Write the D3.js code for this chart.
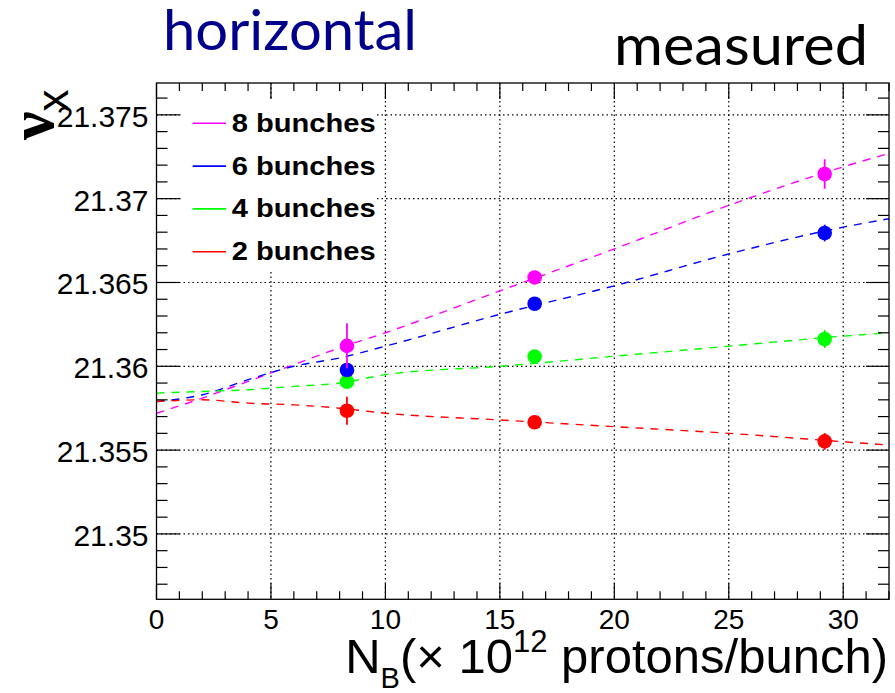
<!DOCTYPE html>
<html>
<head>
<meta charset="utf-8">
<script src="https://cdn.jsdelivr.net/npm/d3@7"></script>
<style>
  body { margin: 0; background: #fff; }
  text { font-family: "Liberation Sans", Arial, sans-serif; }
</style>
</head>
<body>
<div id="container"></div>
<script>
// measured horizontal tune vs bunch intensity
var labels = ["8 bunches", "6 bunches", "4 bunches", "2 bunches"];
var colors = ["#ff00ff", "#0000ff", "#00ff00", "#ff0000"];

var nB = [8.32, 16.52, 29.19];
var tune8 = [21.36122, 21.36530, 21.37147];
var tune6 = [21.35978, 21.36373, 21.36795];
var tune4 = [21.35908, 21.36058, 21.36163];
var tune2 = [21.35735, 21.35666, 21.35552];
var err8 = [0.00135, 0.0004, 0.00088];
var err6 = [0.0003, 0.0003, 0.0005];
var err4 = [0.0004, 0.0003, 0.00054];
var err2 = [0.00083, 0.0003, 0.0005];

// dashed fit curves
var fitX = [0, 2, 4, 6, 8, 10, 15, 20, 25, 30, 32];
var fit8 = [21.3572, 21.3581, 21.3591, 21.3601, 21.3611, 21.3620, 21.3645, 21.3670, 21.3696, 21.3719, 21.3727];
var fit6 = [21.3579, 21.3583, 21.3592, 21.3600, 21.3605, 21.3612, 21.3631, 21.3648, 21.3667, 21.3683, 21.3688];
var fit4 = [21.3584, 21.3585, 21.3586, 21.3588, 21.3590, 21.3595, 21.3600, 21.3606, 21.3612, 21.3618, 21.3620];
var fit2 = [21.3579, 21.3580, 21.3578, 21.3577, 21.3575, 21.3572, 21.3568, 21.3564, 21.3560, 21.3555, 21.3553];

var xMajor = [0, 5, 10, 15, 20, 25, 30];
var yMajor = [21.35, 21.355, 21.36, 21.365, 21.37, 21.375];
var yLabels = ["21.35", "21.355", "21.36", "21.365", "21.37", "21.375"];

var tunes = [tune8, tune6, tune4, tune2];
var errs = [err8, err6, err4, err2];
var fits = [fit8, fit6, fit4, fit2];

var W = 895, H = 693;
var pL = 156.5, pR = 889, pT = 83, pB = 599.3;

var x = d3.scaleLinear().domain([0, 32]).range([pL, pR]);
var y = d3.scaleLinear().domain([21.3461, 21.3769]).range([pB, pT]);

var svg = d3.select("#container").append("svg")
	.attr("width", W).attr("height", H);
svg.append("rect").attr("width", W).attr("height", H).attr("fill", "#fff");

// grid
var grid = svg.append("g").attr("stroke", "#000").attr("stroke-width", 1.2)
	.attr("stroke-dasharray", "1.5,3");
grid.selectAll("line.v").data(xMajor.slice(1)).enter().append("line")
	.attr("x1", function(d){ return x(d) }).attr("x2", function(d){ return x(d) })
	.attr("y1", pT).attr("y2", pB);
grid.selectAll("line.h").data(yMajor).enter().append("line")
	.attr("x1", pL).attr("x2", pR)
	.attr("y1", function(d){ return y(d) }).attr("y2", function(d){ return y(d) });

// fit curves
var line = d3.line()
	.x(function(d){ return x(d[0]) })
	.y(function(d){ return y(d[1]) })
	.curve(d3.curveMonotoneX);

fits.forEach(function(f, i){
	svg.append("path")
		.attr("d", line(fitX.map(function(v, j){ return [v, f[j]] })))
		.attr("fill", "none")
		.attr("stroke", colors[i])
		.attr("stroke-width", 1.4)
		.attr("stroke-dasharray", "8,7");
});

// points with error bars (draw 2 bunches first so magenta is on top)
for (var i = tunes.length - 1; i >= 0; i--) {
	var g = svg.append("g");
	nB.forEach(function(v, j){
		g.append("line")
			.attr("x1", x(v)).attr("x2", x(v))
			.attr("y1", y(tunes[i][j] - errs[i][j]))
			.attr("y2", y(tunes[i][j] + errs[i][j]))
			.attr("stroke", colors[i]).attr("stroke-width", 1.8);
		g.append("circle")
			.attr("cx", x(v)).attr("cy", y(tunes[i][j]))
			.attr("r", 7.3).attr("fill", colors[i]);
	});
}

// frame and ticks
svg.append("rect")
	.attr("x", pL).attr("y", pT)
	.attr("width", pR - pL).attr("height", pB - pT)
	.attr("fill", "none").attr("stroke", "#000").attr("stroke-width", 1.3);

var ticks = svg.append("g").attr("stroke", "#000").attr("stroke-width", 1.2);
d3.range(0, 33).forEach(function(v){
	var len = (v % 5 == 0) ? 16 : 8;
	ticks.append("line").attr("x1", x(v)).attr("x2", x(v))
		.attr("y1", pB).attr("y2", pB - len);
	ticks.append("line").attr("x1", x(v)).attr("x2", x(v))
		.attr("y1", pT).attr("y2", pT + len);
});
d3.range(21347, 21377).forEach(function(k){
	var v = k / 1000;
	var len = (k % 5 == 0) ? 23 : 11;
	ticks.append("line").attr("x1", pL).attr("x2", pL + len)
		.attr("y1", y(v)).attr("y2", y(v));
	ticks.append("line").attr("x1", pR).attr("x2", pR - len)
		.attr("y1", y(v)).attr("y2", y(v));
});

// tick labels
svg.selectAll("text.xl").data(xMajor).enter().append("text")
	.attr("x", function(d){ return x(d) }).attr("y", 628.5)
	.attr("text-anchor", "middle").attr("font-size", 28)
	.text(function(d){ return d });
svg.selectAll("text.yl").data(yMajor).enter().append("text")
	.attr("x", pL - 8).attr("y", function(d){ return y(d) + 12 })
	.attr("text-anchor", "end").attr("font-size", 30)
	.text(function(d, i){ return yLabels[i] });

// x title
var xt = svg.append("text").attr("x", 888).attr("y", 673.3)
	.attr("text-anchor", "end").attr("font-size", 49);
xt.append("tspan").text("N");
xt.append("tspan").attr("dy", 15).attr("font-size", 29).text("B");
xt.append("tspan").attr("dy", -15).text("(\u00d7 10");
xt.append("tspan").attr("dy", -21).attr("font-size", 31).text("12");
xt.append("tspan").attr("dy", 21).text(" protons/bunch)");

// y title
var yt = svg.append("text")
	.attr("transform", "translate(53,140) rotate(-90)")
	.attr("font-size", 64).attr("font-weight", "bold")
	.style("font-family", "'Liberation Serif', serif");
yt.append("tspan").text("\u03bd");
yt.append("tspan").attr("dy", 15).attr("font-size", 44)
	.style("font-family", "'Liberation Sans', sans-serif").style("font-weight", "normal")
	.text("x");

// legend
svg.append("rect").attr("x", 183).attr("y", 101).attr("width", 194).attr("height", 170)
	.attr("fill", "#fff");
labels.forEach(function(d, i){
	var ly = 123.3 + i * 42.8;
	svg.append("line").attr("x1", 192.7).attr("x2", 226)
		.attr("y1", ly).attr("y2", ly)
		.attr("stroke", colors[i]).attr("stroke-width", 1.6);
	svg.append("text").attr("x", 231.7).attr("y", ly + 8.4)
		.attr("font-size", 25).attr("font-weight", "bold")
		.attr("textLength", 144).attr("lengthAdjust", "spacingAndGlyphs")
		.text(d);
});

// slide titles
svg.append("text").attr("x", 163).attr("y", 50)
	.attr("font-size", 57).attr("fill", "#00008b")
	.style("font-family", "Lato, 'Open Sans', sans-serif")
	.attr("textLength", 254).attr("lengthAdjust", "spacingAndGlyphs")
	.text("horizontal");
svg.append("text").attr("x", 614).attr("y", 65)
	.attr("font-size", 57).attr("fill", "#000")
	.style("font-family", "Lato, 'Open Sans', sans-serif")
	.attr("textLength", 254).attr("lengthAdjust", "spacingAndGlyphs")
	.text("measured");
</script>
</body>
</html>
